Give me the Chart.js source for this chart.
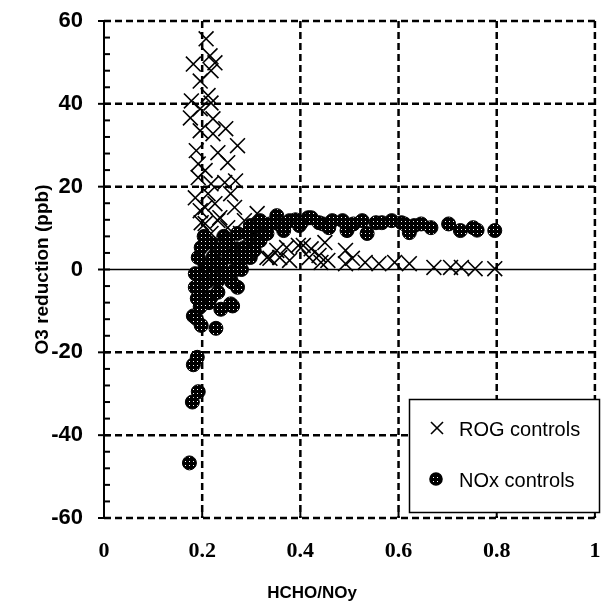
<!DOCTYPE html>
<html>
<head>
<meta charset="utf-8">
<script src="https://cdn.jsdelivr.net/npm/chart.js@4.4.1/dist/chart.umd.min.js"></script>
<style>
html, body { margin: 0; padding: 0; background: #fff; }
canvas { display: block; }
</style>
</head>
<body>
<canvas id="chart" width="607" height="605"></canvas>
<script>
const xTicks = [0, 0.2, 0.4, 0.6, 0.8, 1];
const yTicks = [-60, -40, -20, 0, 20, 40, 60];
const xTitle = "HCHO/NOy";

/* ROG controls */
const rogX = [0.208, 0.216, 0.182, 0.226, 0.218, 0.196, 0.212, 0.178, 0.218, 0.196, 0.176, 0.222,
  0.196, 0.248, 0.222, 0.272, 0.188, 0.232, 0.252, 0.192, 0.206, 0.268, 0.192, 0.218, 0.246,
  0.186, 0.258, 0.212, 0.226, 0.266, 0.196, 0.312, 0.236, 0.286, 0.206, 0.252, 0.218, 0.278,
  0.318, 0.206, 0.232, 0.198,
  0.332, 0.338, 0.352, 0.358, 0.372, 0.378, 0.396, 0.406, 0.418, 0.422, 0.438, 0.442, 0.45,
  0.456, 0.492, 0.492, 0.506, 0.532, 0.56, 0.592, 0.622, 0.672, 0.706, 0.728, 0.756, 0.796];
const rogY = [55.7, 51.6, 49.6, 49.9, 48, 45.5, 42, 40.7, 40.2, 38.8, 36.6, 36.4,
  33.5, 34, 32.8, 29.9, 28.7, 28.2, 25.8, 25.5, 23.9, 21.4, 22.2, 20.7, 21,
  17.3, 18.3, 18.3, 15.9, 15, 14.2, 13.5, 12.5, 11.8, 11.1, 10.1, 8.7, 8.7,
  10, 15, 11.8, 11.3,
  2.9, 2.7, 4.6, 2.9, 5.3, 2.2, 5.8, 5.8, 2.9, 5, 3.4, 1.7, 6.5,
  2.2, 4.6, 1.4, 2.7, 1.7, 1.4, 1.7, 1.4, 0.5, 0.5, 0.5, 0.2, 0.2];

/* NOx controls */
const noxX = [0.174, 0.18, 0.192, 0.182, 0.19, 0.182, 0.188, 0.198, 0.228, 0.238, 0.258, 0.262, 0.272,
  0.186, 0.186, 0.19, 0.196, 0.198, 0.198, 0.192, 0.198, 0.204, 0.206, 0.21, 0.212, 0.214, 0.218,
  0.218, 0.222, 0.226, 0.232, 0.232, 0.238, 0.24, 0.244, 0.25, 0.252, 0.255, 0.26, 0.266, 0.27,
  0.272, 0.272, 0.28, 0.286, 0.29, 0.292, 0.298, 0.298, 0.306, 0.306, 0.312, 0.318, 0.318, 0.326,
  0.332, 0.338, 0.352, 0.356, 0.366, 0.366, 0.378, 0.39, 0.398, 0.402, 0.416, 0.422, 0.438, 0.446,
  0.458, 0.465, 0.486, 0.495, 0.508, 0.526, 0.536, 0.554, 0.566, 0.586, 0.606, 0.612, 0.622, 0.632,
  0.646, 0.666, 0.702, 0.726, 0.752, 0.76, 0.796];
const noxY = [-46.7, -32, -29.5, -23, -21.2, -11.2, -11.8, -13.5, -14.2, -9.6, -8.3, -8.8, -4.3,
  -4.3, -1, -7, -9, -5, -1.9, 2.9, 5.3, 8, 1, -3, 0.5, -8, -6.7,
  6.3, 3, -1, -2.7, -5.5, 1.4, 5, 8, -1, 7, 3, -3, -0.2, 5,
  8.7, 2.2, 0, 5.3, 3, 8.7, 10.6, 2.9, 4.6, 7, 10.1, 11.8, 7, 8.9,
  8.7, 11, 13, 11, 9.4, 10.1, 11.8, 12, 10.6, 11.3, 12.5, 12.5, 11.3, 11,
  10.1, 11.8, 11.8, 9.4, 11, 11.8, 8.7, 11.3, 11.3, 11.8, 11.3, 11, 8.9, 10.6,
  11, 10.1, 11, 9.4, 10.1, 9.5, 9.4];

const rogPts = rogX.map((x, i) => ({ x, y: rogY[i] }));
const noxPts = noxX.map((x, i) => ({ x, y: noxY[i] }));

// stippled black fill like the scanned markers
const pc = document.createElement("canvas");
pc.width = 4; pc.height = 4;
const pctx = pc.getContext("2d");
pctx.fillStyle = "#000"; pctx.fillRect(0, 0, 4, 4);
pctx.fillStyle = "#fff"; pctx.fillRect(1, 1, 1, 1);
const dots = chart.getContext("2d").createPattern(pc, "repeat");

function seg(ctx, x1, y1, x2, y2) {
  ctx.beginPath(); ctx.moveTo(x1, y1); ctx.lineTo(x2, y2); ctx.stroke();
}

const frame = {
  id: "frame",
  beforeDatasetsDraw(c) {
    const { ctx, chartArea: a, scales: { x, y } } = c;
    ctx.save();
    ctx.strokeStyle = "#000";
    ctx.lineWidth = 2.5;
    ctx.setLineDash([7, 4]);
    xTicks.forEach(v => {
      if (v === 0) return;
      const px = x.getPixelForValue(v);
      seg(ctx, px, a.top, px, a.bottom);
    });
    yTicks.forEach(v => {
      if (v === 0) return;
      const py = y.getPixelForValue(v);
      seg(ctx, a.left, py, a.right, py);
    });
    ctx.setLineDash([]);
    // zero line
    ctx.lineWidth = 1.5;
    const y0 = y.getPixelForValue(0);
    seg(ctx, a.left, y0, a.right, y0);
    // left axis + ticks
    ctx.lineWidth = 2;
    seg(ctx, a.left, a.top - 1, a.left, a.bottom + 1);
    yTicks.forEach(v => {
      const py = y.getPixelForValue(v);
      seg(ctx, a.left - 6, py, a.left, py);
    });
    for (let v = -60; v <= 60; v += 4) {
      const py = y.getPixelForValue(v);
      seg(ctx, a.left, py, a.left + 6, py);
    }
    xTicks.forEach(v => {
      const px = x.getPixelForValue(v);
      seg(ctx, px, a.bottom, px, a.bottom - 6);
    });
    // x title, sits left of the axis centre in the original
    ctx.fillStyle = "#000";
    ctx.font = "bold 17px 'Liberation Sans', Arial, sans-serif";
    ctx.textAlign = "center";
    ctx.textBaseline = "middle";
    ctx.fillText(xTitle, 312, 593);
    ctx.restore();
  }
};

const legendBox = {
  id: "legendBox",
  afterDraw(c) {
    const ctx = c.ctx;
    ctx.save();
    ctx.fillStyle = "#fff";
    ctx.fillRect(409, 399, 190, 113);
    ctx.strokeStyle = "#000";
    ctx.lineWidth = 1.5;
    ctx.strokeRect(409.5, 399.5, 190, 113);
    // cross
    ctx.lineWidth = 1.6;
    seg(ctx, 431, 422, 443, 434);
    seg(ctx, 443, 422, 431, 434);
    // dotted circle
    ctx.beginPath();
    ctx.arc(436, 479, 6, 0, Math.PI * 2);
    ctx.fillStyle = dots;
    ctx.fill();
    ctx.stroke();
    ctx.fillStyle = "#000";
    ctx.font = "20px 'Liberation Sans', Arial, sans-serif";
    ctx.textBaseline = "middle";
    ctx.fillText(c.data.datasets[0].label, 459, 430);
    ctx.fillText(c.data.datasets[1].label, 459, 481);
    ctx.restore();
  }
};

new Chart(chart, {
  type: "scatter",
  data: {
    datasets: [{
      label: "ROG controls",
      data: rogPts,
      order: 1,
      pointStyle: "crossRot",
      pointRadius: 10.5,
      borderColor: "#000",
      backgroundColor: "#000",
      borderWidth: 1.6
    }, {
      label: "NOx controls",
      data: noxPts,
      order: 0,
      pointStyle: "circle",
      pointRadius: 7,
      borderColor: "#000",
      backgroundColor: dots,
      borderWidth: 1
    }]
  },
  options: {
    responsive: false,
    animation: false,
    layout: { padding: { top: 21, right: 3, left: 0, bottom: 0 } },
    plugins: { legend: { display: false }, tooltip: { enabled: false } },
    scales: {
      x: {
        min: 0, max: 1,
        grid: { display: false, drawTicks: false },
        border: { display: false },
        afterBuildTicks: s => { s.ticks = xTicks.map(v => ({ value: v })); },
        afterFit: s => { s.height = 87; s.paddingLeft = 0; s.paddingRight = 0; },
        ticks: {
          color: "#000",
          padding: 20,
          maxRotation: 0,
          font: { family: "'Liberation Serif', 'Times New Roman', serif", size: 22, weight: "bold" },
          callback: v => String(+v.toFixed(1))
        },
        title: { display: false }
      },
      y: {
        min: -60, max: 60,
        grid: { display: false, drawTicks: false },
        border: { display: false },
        afterBuildTicks: s => { s.ticks = yTicks.map(v => ({ value: v })); },
        afterFit: s => { s.width = 104; s.paddingTop = 0; s.paddingBottom = 0; },
        ticks: {
          color: "#000",
          padding: 21,
          font: { family: "'Liberation Sans', Arial, sans-serif", size: 22, weight: "bold" }
        },
        title: {
          display: true,
          text: "O3 reduction (ppb)",
          color: "#000",
          padding: { top: 31, bottom: 0 },
          font: { family: "'Liberation Sans', Arial, sans-serif", size: 19, weight: "bold" }
        }
      }
    }
  },
  plugins: [frame, legendBox]
});
</script>
</body>
</html>
